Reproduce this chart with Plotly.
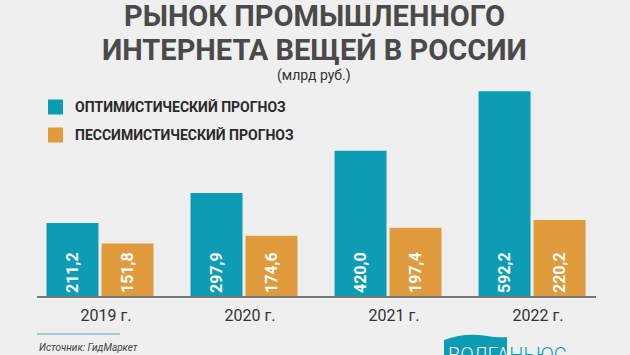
import plotly.graph_objects as go

years = ["2019 г.", "2020 г.", "2021 г.", "2022 г."]
optimistic = [211.2, 297.9, 420.0, 592.2]
pessimistic = [151.8, 174.6, 197.4, 220.2]
series_names = ["ОПТИМИСТИЧЕСКИЙ ПРОГНОЗ", "ПЕССИМИСТИЧЕСКИЙ ПРОГНОЗ"]

TEAL = "#0c9db4"
ORANGE = "#df9b3c"
BG = "#efefef"
DARK = "#4a4a4a"

W, H = 630, 355
ML, MR, MT, MB = 37, 34, 71, 59
PW = W - ML - MR
PH = H - MT - MB


def px(x):
    return (x - ML) / PW


def py(y):
    return (H - MB - y) / PH


def fmt(v):
    return f"{v:.1f}".replace(".", ",")


fig = go.Figure()
for vals, color, name in [(optimistic, TEAL, series_names[0]), (pessimistic, ORANGE, series_names[1])]:
    fig.add_trace(go.Bar(
        x=years, y=vals, name=name, marker=dict(color=color, line=dict(width=0)),
        text=[fmt(v) for v in vals], textposition="inside", insidetextanchor="start",
        textangle=-90, textfont=dict(family="Roboto", size=16, color="white", weight="bold"),
        showlegend=False, cliponaxis=False, hoverinfo="skip",
    ))

fig.update_layout(
    width=W, height=H, paper_bgcolor=BG, plot_bgcolor=BG,
    margin=dict(l=ML, r=MR, t=MT, b=MB, autoexpand=False),
    barmode="group", bargap=0.236, bargroupgap=0.055,
    uniformtext=dict(minsize=16, mode="show"),
    xaxis=dict(range=[-0.4375, 3.444], showline=True, linecolor="#7a7a7a", linewidth=2,
               showgrid=False, ticks="", ticklabelshift=6, ticklabelstandoff=4,
               tickfont=dict(family="Roboto", size=16, color="#333333")),
    yaxis=dict(range=[0, 650.9], visible=False, showgrid=False, zeroline=False),
    font=dict(family="Roboto"),
)

title_font = dict(family="Roboto", size=29, color=DARK, weight="bold")
ann = []
ann.append(dict(text="РЫНОК ПРОМЫШЛЕННОГО", x=px(314), y=py(16), font=title_font))
ann.append(dict(text="ИНТЕРНЕТА ВЕЩЕЙ В РОССИИ", x=px(314), y=py(50), font=title_font))
ann.append(dict(text="(млрд руб.)", x=px(314), y=py(75),
                font=dict(family="Roboto", size=14, color="#333333")))
legend_font = dict(family="Roboto", size=14, color="#2a2a2a", weight="bold")
for i, (name, color) in enumerate(zip(series_names, [TEAL, ORANGE])):
    yc = 107 + i * 28
    fig.add_shape(type="rect", xref="paper", yref="paper", x0=px(48), x1=px(63),
                  y0=py(yc - 7.5), y1=py(yc + 7.5), fillcolor=color, line=dict(width=0))
    ann.append(dict(text=name, x=px(73), y=py(yc), xanchor="left", font=legend_font))

# footer
fig.add_shape(type="line", xref="paper", yref="paper", x0=px(37), x1=px(120), y0=py(334), y1=py(334),
              line=dict(color="#9ccfd6", width=2))
ann.append(dict(text="<i>Источник: ГидМаркет</i>", x=px(37), y=py(347), xanchor="left",
                font=dict(family="Roboto", size=10, color="#444444")))
# logo
fig.add_shape(type="path", xref="paper", yref="paper",
              path=f"M {px(444)} {py(360)} L {px(444)} {py(340)} Q {px(465)} {py(332)} {px(487)} {py(336)} "
                   f"Q {px(498)} {py(338)} {px(507)} {py(337)} L {px(507)} {py(360)} Z",
              fillcolor=TEAL, line=dict(width=0))
ann.append(dict(text=f"<span style='color:{BG}'>ВОЛГА</span>НЬЮС", x=px(446), y=py(355), xanchor="left",
                font=dict(family="Roboto", size=20, color=TEAL, weight=300)))

for a in ann:
    a.setdefault("xref", "paper")
    a.setdefault("yref", "paper")
    a.setdefault("showarrow", False)
    a.setdefault("yanchor", "middle")
    a.setdefault("xanchor", "center")
    fig.add_annotation(**a)

fig.write_html("out.html", config={"displayModeBar": False, "staticPlot": True},
               post_script="document.body.style.margin='0';document.body.style.padding='0';")
